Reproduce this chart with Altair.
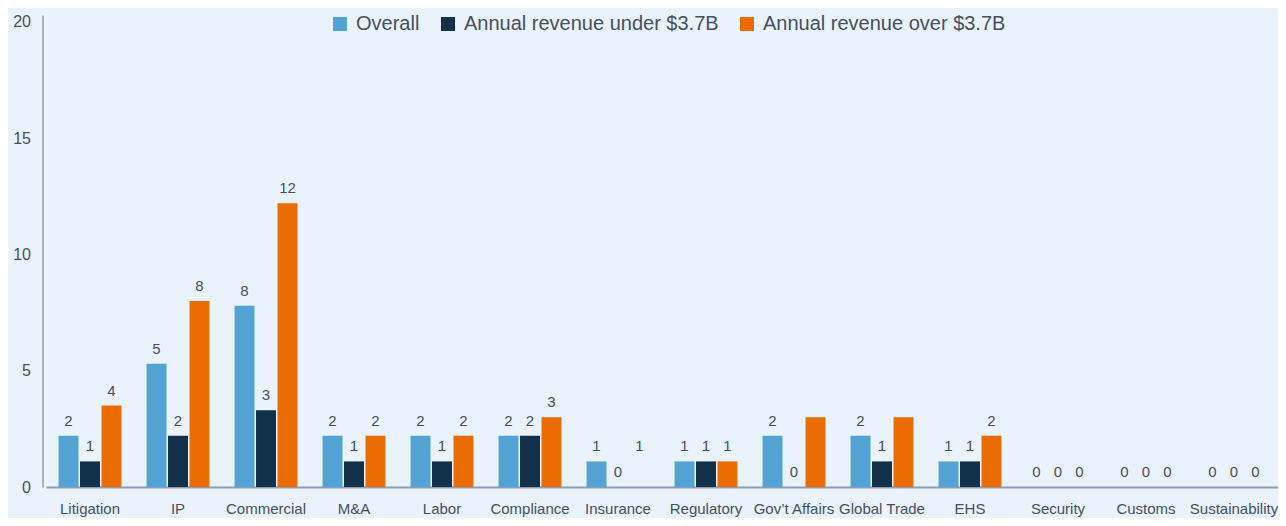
import altair as alt
import pandas as pd

categories = ["Litigation", "IP", "Commercial", "M&A", "Labor", "Compliance", "Insurance",
              "Regulatory", "Gov\u2019t Affairs", "Global Trade", "EHS", "Security", "Customs",
              "Sustainability"]
series = ["Overall", "Annual revenue under $3.7B", "Annual revenue over $3.7B"]
colors = ["#53a4d4", "#12304a", "#ec6c04"]

overall = [2.2, 5.3, 7.8, 2.2, 2.2, 2.2, 1.1, 1.1, 2.2, 2.2, 1.1, 0, 0, 0]
under = [1.1, 2.2, 3.3, 1.1, 1.1, 2.2, 0, 1.1, 0, 1.1, 1.1, 0, 0, 0]
over = [3.5, 8.0, 12.2, 2.2, 2.2, 3.0, 0, 1.1, 3.0, 3.0, 2.2, 0, 0, 0]

# values used for the printed labels (None = no label shown)
overall_label = overall
under_label = under
over_label = [3.5, 8.0, 12.2, 2.2, 2.2, 3.0, 1.1, 1.1, None, None, 2.2, 0, 0, 0]

y_ticks = [0, 5, 10, 15, 20]

rows = []
for s, vals, labs in zip(series, [overall, under, over], [overall_label, under_label, over_label]):
    for c, v, l in zip(categories, vals, labs):
        rows.append({"category": c, "series": s, "value": v, "label": l})
df = pd.DataFrame(rows)

text_color = "#46505e"
axis_color = "#8d9cb1"
font = "Liberation Sans"

x_enc = alt.X("category:N", sort=categories,
              scale=alt.Scale(paddingInner=0.285, paddingOuter=0.1425),
              axis=alt.Axis(title=None, labelAngle=0, ticks=False, labelPadding=14,
                            labelFontSize=15, labelColor=text_color, labelFont=font,
                            domainColor=axis_color, domainWidth=2))
xo_enc = alt.XOffset("series:N", sort=series, scale=alt.Scale(paddingInner=0.07, paddingOuter=0))
y_scale = alt.Scale(domain=[0, 20.3], nice=False)

bars = alt.Chart(df).mark_bar().encode(
    x=x_enc,
    xOffset=xo_enc,
    y=alt.Y("value:Q", scale=y_scale,
            axis=alt.Axis(title=None, values=y_ticks, grid=False, ticks=False, labelPadding=12,
                          labelFontSize=16, labelColor=text_color, labelFont=font,
                          domainColor=axis_color, domainWidth=1.5, offset=3.5)),
    color=alt.Color("series:N", sort=series,
                    scale=alt.Scale(domain=series, range=colors),
                    legend=alt.Legend(title=None, orient="none", direction="horizontal",
                                      legendX=284, legendY=-1, padding=0,
                                      symbolType="square", symbolSize=196, symbolStrokeWidth=0,
                                      symbolOpacity=1, labelLimit=0,
                                      labelFontSize=20, labelFont=font, labelColor=text_color,
                                      labelOffset=6, columnPadding=18)),
)

labels = alt.Chart(df).transform_filter("datum.label != null").mark_text(
    baseline="alphabetic", dy=-10, fontSize=15, font=font, color=text_color
).encode(
    x=alt.X("category:N", sort=categories),
    xOffset=alt.XOffset("series:N", sort=series),
    y=alt.Y("label:Q", scale=y_scale),
    text=alt.Text("label:Q", format=".0f"),
)

chart = alt.layer(bars, labels).properties(
    width=1232, height=472,
    autosize=alt.AutoSizeParams(type="none"),
    padding={"left": 38, "top": 7, "right": 0, "bottom": 31},
    background="#eaf2fb",
).configure_view(stroke=None, fill="#eaf2fb")

chart.save("out.html", embed_options={"renderer": "svg", "actions": False})
